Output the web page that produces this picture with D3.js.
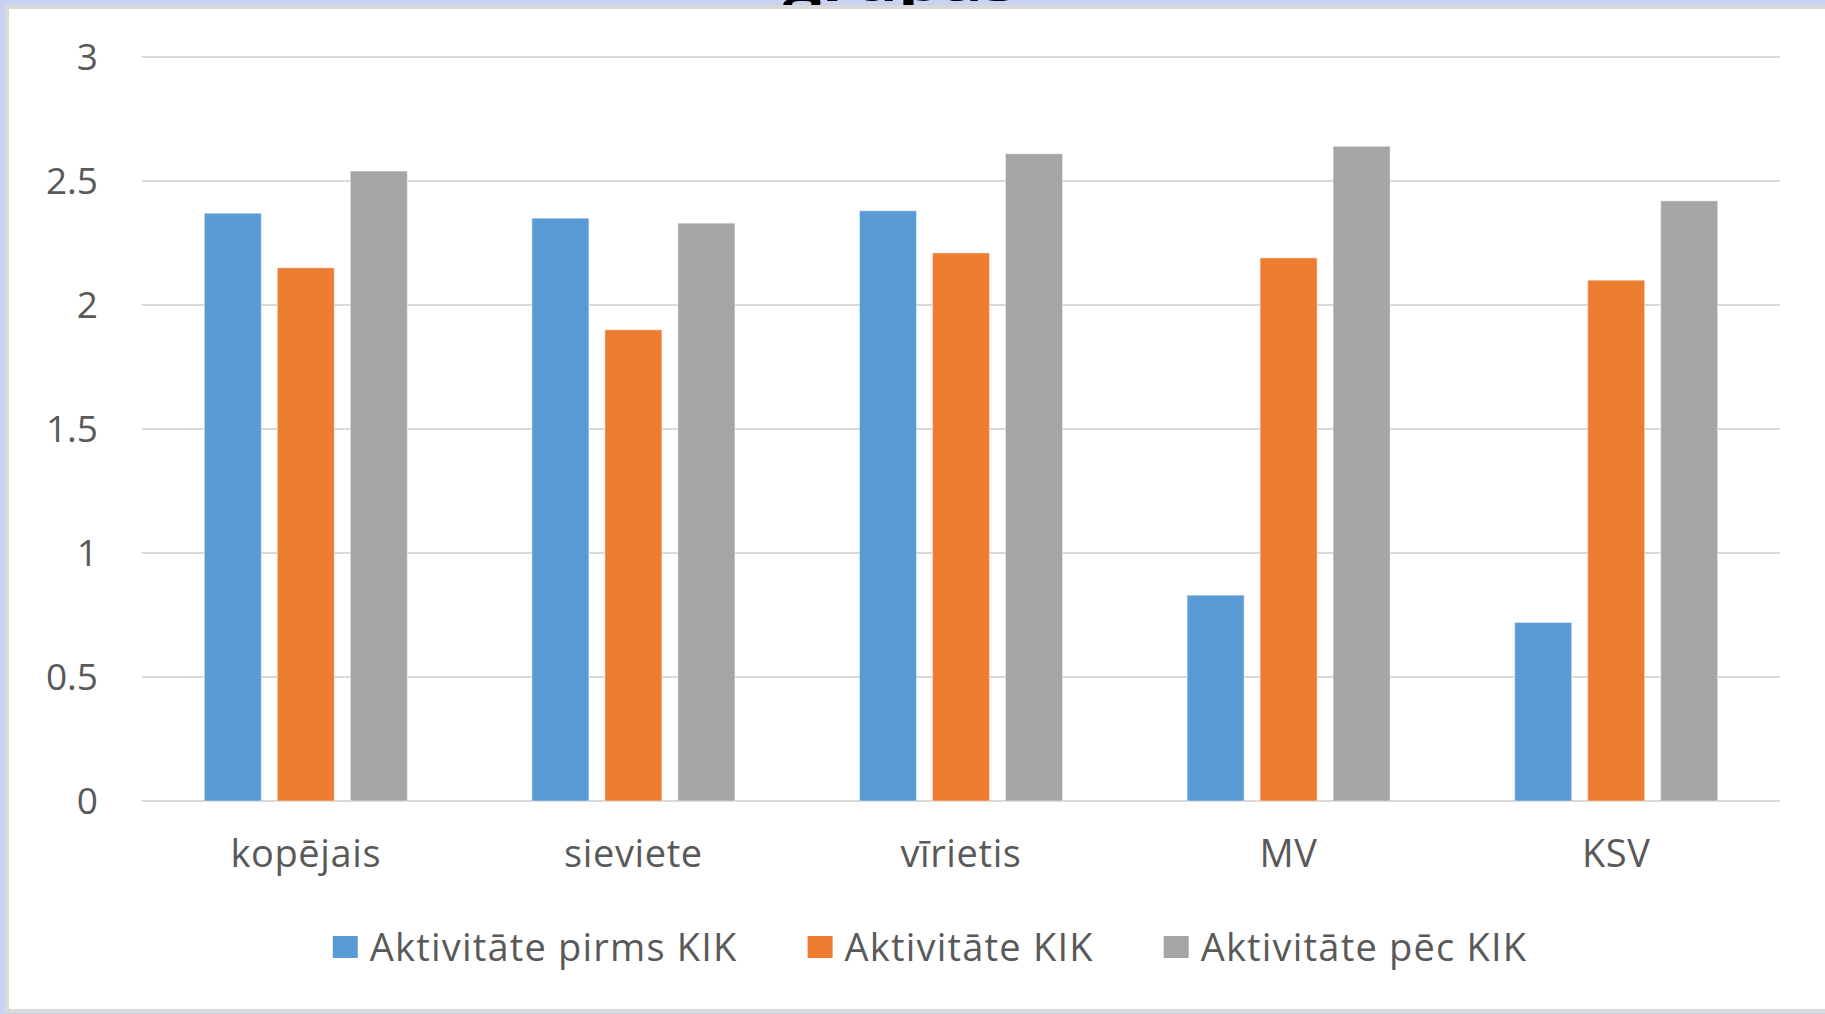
<!DOCTYPE html>
<html>
<head>
<meta charset="utf-8">
<script src="https://cdn.jsdelivr.net/npm/d3@7"></script>
<style>
  html, body { margin: 0; padding: 0; background: #c8d3f3; overflow: hidden; }
  svg { display: block; }
  text { font-family: "Open Sans", "Noto Sans", sans-serif; }
</style>
</head>
<body>
<svg id="chart" width="1825" height="1014"></svg>
<script>
const categories = ["kopējais", "sieviete", "vīrietis", "MV", "KSV"];
const seriesNames = ["Aktivitāte pirms KIK", "Aktivitāte KIK", "Aktivitāte pēc KIK"];
const seriesColors = ["#5b9bd5", "#ed7d31", "#a5a5a5"];
const pirmsKIK = [2.37, 2.35, 2.38, 0.83, 0.72];
const laikaKIK = [2.15, 1.90, 2.21, 2.19, 2.10];
const pecKIK   = [2.54, 2.33, 2.61, 2.64, 2.42];
const yTicks = [0, 0.5, 1, 1.5, 2, 2.5, 3];
const titleFragment = "grupās";

const series = [pirmsKIK, laikaKIK, pecKIK];

const svg = d3.select("#chart");
const W = 1825, H = 1014;

// cut-off title remnant (the reference shows only its lower edge)
svg.append("text")
  .attr("x", 783).attr("y", 1)
  .attr("textLength", 234).attr("lengthAdjust", "spacingAndGlyphs")
  .attr("font-size", 44).attr("font-weight", 700).attr("fill", "#000")
  .text(titleFragment);

// white chart panel with grey frame
svg.append("rect")
  .attr("x", 7).attr("y", 7).attr("width", W).attr("height", 1004)
  .attr("fill", "#fff").attr("stroke", "#d9d9d9").attr("stroke-width", 4);

const plotLeft = 142, plotRight = 1780, plotTop = 57, plotBottom = 801;

const y = d3.scaleLinear().domain([0, 3]).range([plotBottom, plotTop]);
const x0 = d3.scaleBand().domain(categories).range([plotLeft, plotRight])
  .paddingInner(0.3803).paddingOuter(0.3803 / 2);
const x1 = d3.scaleBand().domain(d3.range(series.length)).range([0, x0.bandwidth()])
  .paddingInner(0.219).paddingOuter(0);

// gridlines
svg.append("g").selectAll("line").data(yTicks).join("line")
  .attr("x1", plotLeft).attr("x2", plotRight)
  .attr("y1", d => y(d)).attr("y2", d => y(d))
  .attr("stroke", "#d9d9d9").attr("stroke-width", 2);

// y tick labels
svg.append("g").selectAll("text").data(yTicks).join("text")
  .attr("x", 98).attr("y", d => y(d)).attr("dy", "0.36em")
  .attr("text-anchor", "end").attr("font-size", 37).attr("fill", "#595959")
  .text(d => d3.format("")(d));

// bars
const groups = svg.append("g").selectAll("g").data(categories).join("g")
  .attr("transform", c => `translate(${x0(c)},0)`);
groups.selectAll("rect")
  .data((c, ci) => series.map((s, si) => ({ si, v: s[ci] })))
  .join("rect")
  .attr("x", d => x1(d.si))
  .attr("width", x1.bandwidth())
  .attr("y", d => y(d.v))
  .attr("height", d => y(0) - y(d.v))
  .attr("fill", d => seriesColors[d.si])
  .attr("stroke", "rgba(255,255,255,0.45)").attr("stroke-width", 1);

// category labels
svg.append("g").selectAll("text").data(categories).join("text")
  .attr("x", c => x0(c) + x0.bandwidth() / 2).attr("y", 867)
  .attr("text-anchor", "middle").attr("font-size", 38).attr("fill", "#595959")
  .attr("letter-spacing", 0.6)
  .text(c => c);

// legend (centred under the plot like the reference)
const legend = svg.append("g");
const items = seriesNames.map((name, i) => {
  const t = legend.append("text").attr("y", 961)
    .attr("font-size", 38).attr("fill", "#595959").attr("letter-spacing", 1.2).text(name);
  return { i, t, w: t.node().getComputedTextLength() };
});
const sq = 25, sqGap = 12, itemGap = 70;
const total = d3.sum(items, d => sq + sqGap + d.w) + itemGap * (items.length - 1);
let lx = 930 - total / 2;
items.forEach(d => {
  legend.append("rect").attr("x", lx).attr("y", 936).attr("width", sq).attr("height", 22)
    .attr("fill", seriesColors[d.i]);
  d.t.attr("x", lx + sq + sqGap);
  lx += sq + sqGap + d.w + itemGap;
});
</script>
</body>
</html>
